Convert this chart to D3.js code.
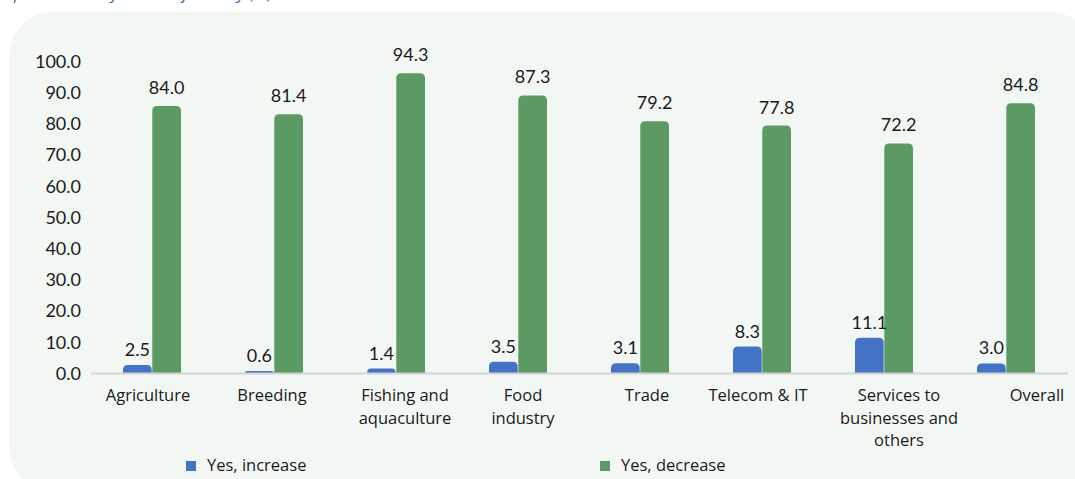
<!DOCTYPE html>
<html>
<head>
<meta charset="utf-8">
<script src="https://cdn.jsdelivr.net/npm/d3@7"></script>
<style>
  html, body { margin: 0; padding: 0; background: #ffffff; }
  svg { display: block; }
</style>
</head>
<body>
<svg id="chart" width="1075" height="479"></svg>
<script>
// Sectors and survey answers (%)
const categories = ["Agriculture", "Breeding", "Fishing and aquaculture", "Food industry",
                    "Trade", "Telecom & IT", "Services to businesses and others", "Overall"];
const categoryLines = [["Agriculture"], ["Breeding"], ["Fishing and", "aquaculture"], ["Food", "industry"],
                       ["Trade"], ["Telecom & IT"], ["Services to", "businesses and", "others"], ["Overall"]];
const seriesNames = ["Yes, increase", "Yes, decrease"];
const increase = [2.5, 0.6, 1.4, 3.5, 3.1, 8.3, 11.1, 3.0];
const decrease = [84.0, 81.4, 94.3, 87.3, 79.2, 77.8, 72.2, 84.8];
const yTicks = [0, 10, 20, 30, 40, 50, 60, 70, 80, 90, 100];

const colors = ["#4472c4", "#5b9a62"];
const svg = d3.select("#chart");

// Caption running above the panel (only its lower edge lies inside the page)
svg.append("text")
  .attr("x", 14).attr("y", -1)
  .attr("font-family", "Open Sans, sans-serif")
  .attr("font-style", "italic")
  .attr("font-size", 17)
  .attr("fill", "#2a6fa6")
  .text("production by sector of activity (%)");

// Light rounded panel
svg.append("rect")
  .attr("x", 9).attr("y", 12)
  .attr("width", 1085).attr("height", 480)
  .attr("rx", 44).attr("ry", 44)
  .attr("fill", "#f3f7f4");

const x0 = d3.scaleBand().domain(categories).range([91, 1067]).paddingInner(0).paddingOuter(0);
const x1 = d3.scaleBand().domain(seriesNames).range([0, 58]).paddingInner(0.02);
const y = d3.scaleLinear().domain([0, 100]).range([373, 55]);
// Tick labels sit on a slightly tighter run than the bars
const yLab = d3.scaleLinear().domain([0, 100]).range([373.5, 61.5]);

const numFont = "Lato, 'Open Sans', sans-serif";
const catFont = "'Open Sans', sans-serif";

// Y axis: labels only
const yAxis = d3.axisLeft(yLab).tickValues(yTicks).tickFormat(d3.format(".1f")).tickSize(0).tickPadding(0);
const gy = svg.append("g").attr("transform", "translate(81,0)").call(yAxis);
gy.select(".domain").remove();
gy.selectAll("text")
  .attr("font-family", numFont)
  .attr("font-size", 18)
  .attr("fill", "#1a1a1a");

// Bars with rounded tops
function topRounded(xl, w, yt, yb, r) {
  const h = yb - yt;
  r = Math.min(r, h, w / 2);
  return `M${xl},${yb}V${yt + r}Q${xl},${yt} ${xl + r},${yt}H${xl + w - r}Q${xl + w},${yt} ${xl + w},${yt + r}V${yb}Z`;
}

const rows = categories.map((c, i) => ({ cat: c, vals: [increase[i], decrease[i]] }));
const groups = svg.append("g").selectAll("g").data(rows).join("g")
  .attr("transform", d => `translate(${x0(d.cat) + x0.bandwidth() / 2 - 29},0)`);

groups.selectAll("path").data(d => d.vals.map((v, j) => ({ v, s: seriesNames[j], j }))).join("path")
  .attr("d", d => topRounded(x1(d.s), x1.bandwidth(), y(d.v), y(0), 5))
  .attr("fill", d => colors[d.j]);

groups.selectAll("text.val").data(d => d.vals.map((v, j) => ({ v, s: seriesNames[j], j }))).join("text")
  .attr("class", "val")
  .attr("x", d => x1(d.s) + x1.bandwidth() / 2)
  .attr("y", d => y(d.v) - (d.j === 1 ? 12 : 9))
  .attr("text-anchor", "middle")
  .attr("font-family", numFont)
  .attr("font-size", 18)
  .attr("fill", "#1a1a1a")
  .text(d => d3.format(".1f")(d.v));

// Baseline drawn over the bar feet
svg.append("line")
  .attr("x1", 91).attr("x2", 1068)
  .attr("y1", y(0) + 0.5).attr("y2", y(0) + 0.5)
  .attr("stroke", "#d4d4d4").attr("stroke-width", 2);

// Category labels below the baseline
const labelNudge = [-4, -2, 9, 5, 7, -4, 15, 31];
const xAxis = d3.axisBottom(x0).tickSize(0).tickFormat("");
const gx = svg.append("g").attr("transform", `translate(0,${y(0)})`).call(xAxis);
gx.select(".domain").remove();
gx.selectAll(".tick").each(function (d, i) {
  const t = d3.select(this).append("text")
    .attr("x", labelNudge[i])
    .attr("y", 28)
    .attr("text-anchor", "middle")
    .attr("font-family", catFont)
    .attr("font-size", 16.5)
    .attr("fill", "#1a1a1a");
  categoryLines[i].forEach((line, k) => {
    t.append("tspan").attr("x", labelNudge[i]).attr("dy", k === 0 ? 0 : 22.5).text(line);
  });
});

// Legend
const legendX = [186, 600];
const legend = svg.append("g").selectAll("g").data(seriesNames).join("g")
  .attr("transform", (d, i) => `translate(${legendX[i]},461)`);
legend.append("rect").attr("width", 10).attr("height", 10).attr("fill", (d, i) => colors[i]);
legend.append("text")
  .attr("x", 21).attr("y", 10)
  .attr("font-family", catFont)
  .attr("font-size", 16.5)
  .attr("fill", "#1a1a1a")
  .text(d => d);
</script>
</body>
</html>
